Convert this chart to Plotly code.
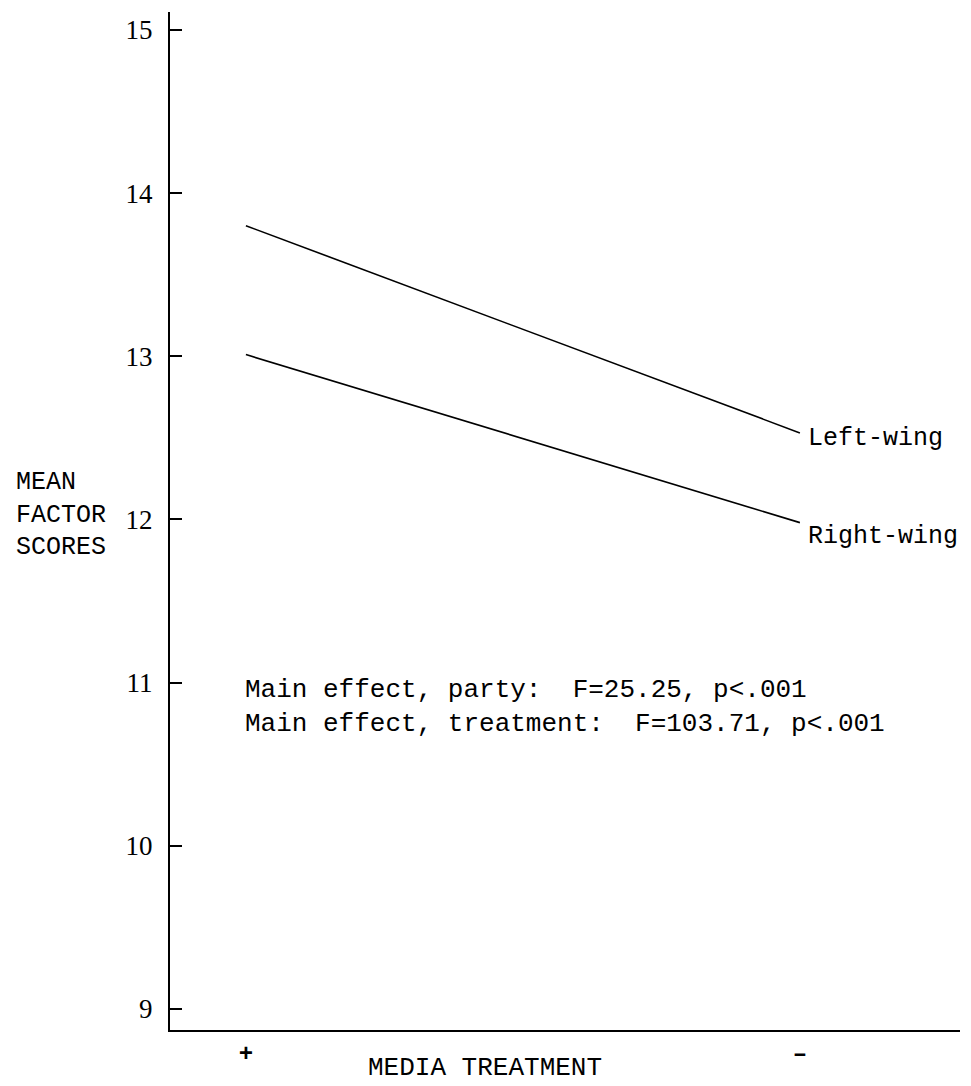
import plotly.graph_objects as go

# Data
treatment = ["+", "-"]
treatment_x = [0, 1]
left_wing = [13.80, 12.53]
right_wing = [13.01, 11.98]
series_names = ["Left-wing", "Right-wing"]
y_ticks = [9, 10, 11, 12, 13, 14, 15]
stats_lines = [
    "Main effect, party:  F=25.25, p<.001",
    "Main effect, treatment:  F=103.71, p<.001",
]

mono = "Liberation Mono"
serif = "Liberation Serif"

# page body has an 8px margin; plot area target: x 170..960, y 12..1030
W, H = 963, 1078
ML, MR, MT, MB = 162, 11, 4, 56
plot_w = W - ML - MR
plot_h = H - MT - MB

fig = go.Figure()
for name, vals in zip(series_names, [left_wing, right_wing]):
    fig.add_trace(go.Scatter(
        x=treatment_x, y=vals, mode="lines", name=name,
        line=dict(color="black", width=1.6), showlegend=False,
        hoverinfo="skip",
    ))

# Series end labels
for name, vals, shift in zip(series_names, [left_wing, right_wing], [-6, -14]):
    fig.add_annotation(
        x=treatment_x[-1], y=vals[-1], xref="x", yref="y",
        text=name, showarrow=False, xanchor="left", yanchor="middle",
        xshift=6, yshift=shift,
        font=dict(family=mono, size=25, color="black"),
    )

# Stats text
fig.add_annotation(
    x=-0.005, y=10.85, xref="x", yref="y",
    text="<br>".join(stats_lines), showarrow=False,
    xanchor="left", yanchor="middle", align="left",
    font=dict(family=mono, size=26, color="black"),
)

# Y-axis title (horizontal, left)
fig.add_annotation(
    x=(14 - 170) / plot_w, y=12.0, xref="paper", yref="y",
    text="MEAN<br>FACTOR<br>SCORES", showarrow=False,
    xanchor="left", yanchor="middle", align="left", yshift=4,
    font=dict(family=mono, size=25, color="black"),
)

# X-axis title
fig.add_annotation(
    x=(485 - 170) / plot_w, y=-(1068 - 1030) / plot_h,
    xref="paper", yref="paper",
    text="MEDIA TREATMENT", showarrow=False,
    xanchor="center", yanchor="middle",
    font=dict(family=mono, size=26, color="black"),
)

fig.update_layout(
    width=W, height=H,
    margin=dict(l=ML, r=MR, t=MT, b=MB),
    paper_bgcolor="white", plot_bgcolor="white",
    xaxis=dict(
        range=[-0.137, 1.289], tickmode="array",
        tickvals=treatment_x, ticktext=["+", "\u2013"],
        showline=True, linecolor="black", linewidth=2,
        showgrid=False, zeroline=False, ticks="",
        ticklabelstandoff=0,
        tickfont=dict(family=mono, size=24, color="black", weight="bold"),
    ),
    yaxis=dict(
        range=[8.87, 15.11], tickmode="array", tickvals=y_ticks,
        showline=True, linecolor="black", linewidth=2,
        showgrid=False, zeroline=False,
        ticks="inside", ticklen=12, tickwidth=1.5, tickcolor="black",
        ticklabelstandoff=10,
        tickfont=dict(family=serif, size=27, color="black"),
    ),
)

fig.write_html("out.html")
